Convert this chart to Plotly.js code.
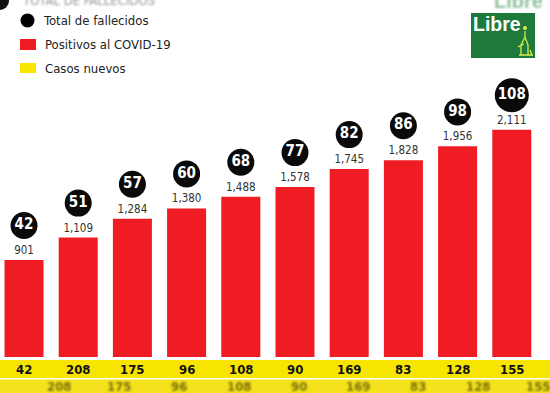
<!DOCTYPE html>
<html><head><meta charset="utf-8">
<script src="https://cdn.plot.ly/plotly-3.0.1.min.js"></script>
<style>html,body{margin:0;padding:0;background:#fff;overflow:hidden}#chart{width:550px;height:393px}</style>
</head><body>
<svg width="0" height="0" style="position:absolute"><defs>
<filter id="blurF" x="-20%" y="-50%" width="140%" height="200%"><feGaussianBlur stdDeviation="1.3"/></filter>
</defs></svg>
<div id="chart"></div>
<script>
// ---- data ----
const dias = [0, 1, 2, 3, 4, 5, 6, 7, 8, 9];
const positivos = [901, 1109, 1284, 1380, 1488, 1578, 1745, 1828, 1956, 2111];
const fallecidos = [42, 51, 57, 60, 68, 77, 82, 86, 98, 108];
const casosNuevos = [42, 208, 175, 96, 108, 90, 169, 83, 128, 155];
const legendLabels = ['Total de fallecidos', 'Positivos al COVID-19', 'Casos nuevos'];
const logoText = 'Libre';

// ---- helpers ----
const W = 550, H = 393;
const px = x => x / W;
const py = y => 1 - y / H;
const FONT = "'DejaVu Sans Condensed', 'Liberation Sans', sans-serif";
const RED = '#f01c24', YEL = '#f7e500', GREEN = '#1d7a3b';

const traces = [
  {
    type: 'bar', x: dias, y: positivos, width: 0.72,
    marker: {color: RED, line: {width: 0}},
    texttemplate: '%{y:,}', textposition: 'outside', cliponaxis: false,
    textfont: {family: FONT, size: 11.5, color: '#333'},
    hoverinfo: 'skip'
  },
  {
    type: 'scatter', mode: 'markers+text', x: dias, opacity: 1,
    y: positivos.map(v => v + 320),
    marker: {color: '#0a0a0a', opacity: 1, size: fallecidos.map(d => String(d).length > 2 ? 34 : 27), line: {width: 0}},
    text: fallecidos, texttemplate: '<b>%{text}</b>', textposition: 'middle center',
    textfont: {family: FONT, size: 15, color: '#fff'},
    cliponaxis: false, hoverinfo: 'skip'
  }
];

const shapes = [
  // yellow bands
  {type: 'rect', xref: 'paper', yref: 'paper', x0: 0, x1: 1, y0: py(378), y1: py(360), fillcolor: YEL, line: {width: 0}, layer: 'below'},
  {type: 'rect', xref: 'paper', yref: 'paper', x0: 0, x1: 1, y0: py(393), y1: py(379.5), fillcolor: '#f4e21c', line: {width: 0}, layer: 'below'},
  // legend markers
  {type: 'circle', xref: 'paper', yref: 'paper', x0: px(20.5), x1: px(34.5), y0: py(27.5), y1: py(13.5), fillcolor: '#000', line: {width: 0}},
  {type: 'rect', xref: 'paper', yref: 'paper', x0: px(20), x1: px(36), y0: py(50), y1: py(39), fillcolor: RED, line: {width: 0}},
  {type: 'rect', xref: 'paper', yref: 'paper', x0: px(20), x1: px(36), y0: py(73), y1: py(63), fillcolor: YEL, line: {width: 0}},
  // top-left blurred blob
  {type: 'circle', xref: 'paper', yref: 'paper', x0: px(-10), x1: px(9), y0: py(10), y1: py(-8), fillcolor: '#111', line: {width: 0}},
  // logo
  {type: 'rect', xref: 'paper', yref: 'paper', x0: px(471), x1: px(535), y0: py(58), y1: py(13), fillcolor: GREEN, line: {width: 0}},
  {type: 'circle', xref: 'paper', yref: 'paper', x0: px(523), x1: px(527), y0: py(30), y1: py(26), fillcolor: '#d7ec4a', line: {width: 0}},
  {type: 'path', xref: 'paper', yref: 'paper',
   path: `M ${px(519)} ${py(55)} L ${px(533)} ${py(55)} M ${px(521)} ${py(55)} L ${px(521)} ${py(45)} L ${px(525)} ${py(37)} L ${px(528)} ${py(45)} L ${px(528)} ${py(55)} M ${px(525)} ${py(37)} L ${px(525)} ${py(31)} M ${px(524)} ${py(44)} L ${px(518)} ${py(47)} M ${px(530)} ${py(50)} L ${px(532)} ${py(55)}`,
   line: {color: '#d7ec4a', width: 1.3}}
];

const annotations = [];
const blurIdx = [];
// legend labels
[[41, 20], [43, 45], [43, 68]].forEach((p, i) => {
  annotations.push({xref: 'paper', yref: 'paper', x: px(p[0]), y: py(p[1]), xanchor: 'left', yanchor: 'middle',
    text: legendLabels[i], showarrow: false, font: {family: FONT, size: 13, color: '#222'}});
});
// band labels
casosNuevos.forEach((c, i) => {
  annotations.push({xref: 'x', yref: 'paper', x: dias[i], y: py(369), xanchor: 'center', yanchor: 'middle',
    text: '<b>' + c + '</b>', showarrow: false, font: {family: FONT, size: 13, color: '#111'}});
});
// blurred echo of band labels
casosNuevos.forEach((c, i) => {
  blurIdx.push(annotations.length);
  annotations.push({xref: 'x', yref: 'paper', x: 0.65 + (dias[i] - 1) * 1.104, y: py(386.5), xanchor: 'center', yanchor: 'middle',
    text: '<b>' + c + '</b>', showarrow: false, font: {family: FONT, size: 13, color: 'rgba(80,70,10,0.75)'}});
});
// blurred header
blurIdx.push(annotations.length);
annotations.push({xref: 'paper', yref: 'paper', x: px(20), y: py(1), xanchor: 'left', yanchor: 'middle',
  text: legendLabels[0].toUpperCase(), showarrow: false, font: {family: FONT, size: 13, color: 'rgba(120,120,120,0.8)'}});
blurIdx.push(annotations.length);
annotations.push({xref: 'paper', yref: 'paper', x: px(492), y: py(1), xanchor: 'left', yanchor: 'middle',
  text: '<b>' + logoText + '</b>', showarrow: false, font: {family: "'Liberation Sans', sans-serif", size: 20, color: 'rgba(70,150,90,0.6)'}});
// logo text
annotations.push({xref: 'paper', yref: 'paper', x: px(471), y: py(24), xanchor: 'left', yanchor: 'middle',
  text: '<b>' + logoText + '</b>', showarrow: false, font: {family: "'Liberation Sans', sans-serif", size: 19.5, color: '#fff'}});

const layout = {
  width: W, height: H,
  margin: {l: 0, r: 0, t: 0, b: 0, pad: 0},
  paper_bgcolor: '#fff', plot_bgcolor: 'rgba(0,0,0,0)',
  showlegend: false,
  xaxis: {range: [-0.443, 9.705], visible: false, fixedrange: true},
  yaxis: {domain: [36 / H, 1], range: [0, 3315], visible: false, fixedrange: true},
  shapes: shapes, annotations: annotations
};

Plotly.newPlot('chart', traces, layout, {staticPlot: true, displayModeBar: false}).then(gd => {
  const anns = gd.querySelectorAll('.annotation');
  blurIdx.forEach(i => { if (anns[i]) anns[i].setAttribute('filter', 'url(#blurF)'); });
});
</script>
</body></html>
